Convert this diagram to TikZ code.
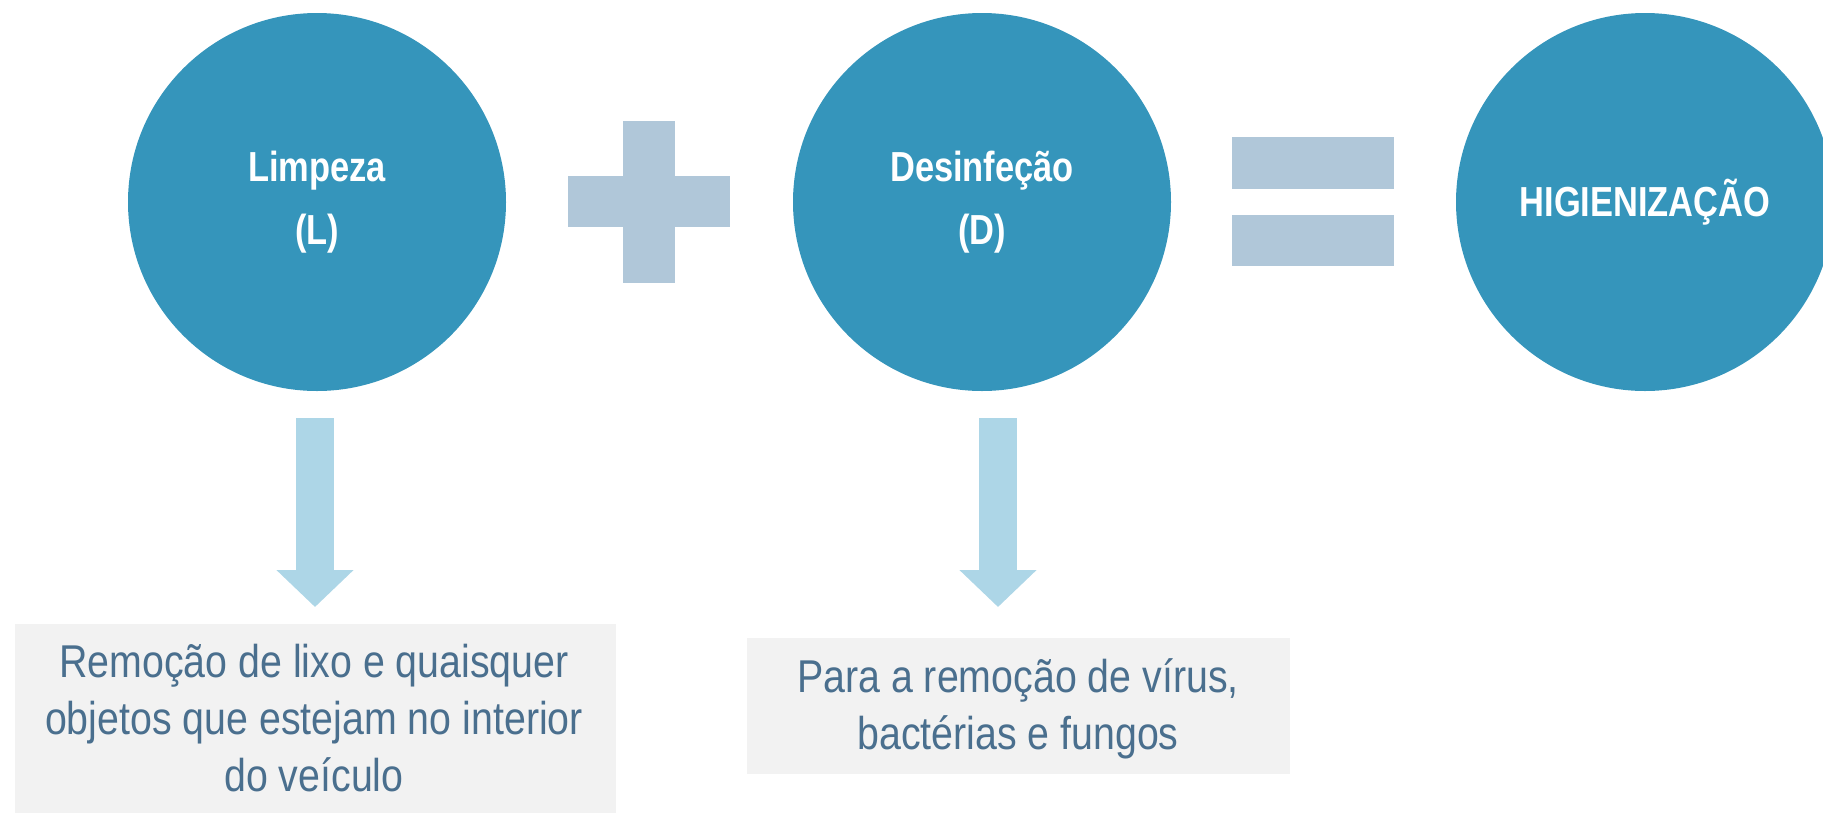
\documentclass[tikz,border=0pt]{standalone}
\usepackage{fontspec}
\setmainfont{Liberation Sans}
\newfontfamily\bodyfont{Liberation Sans}[FakeStretch=0.855]
\newfontfamily\titlefont{Liberation Sans}[FakeStretch=0.82]
\usetikzlibrary{arrows.meta}
\definecolor{circblue}{HTML}{3595BB}
\definecolor{signblue}{HTML}{B0C7D9}
\definecolor{arrowblue}{HTML}{ADD6E7}
\definecolor{notegray}{HTML}{F2F2F2}
\definecolor{notetext}{HTML}{4A6F8E}
\begin{document}
\begin{tikzpicture}[x=1pt, y=-1pt, disc/.style={circle, fill=circblue, minimum size=378pt, inner sep=0pt, text=white, align=center, font=\titlefont\bfseries\fontsize{42}{63}\selectfont}, sign/.style={fill=signblue}, downarrow/.style={draw=arrowblue, line width=38pt, -{Triangle[width=75pt, length=37pt]}}, note/.style={fill=notegray, inner sep=0pt}, notetxt/.style={text=notetext, inner sep=0pt, align=center, font=\bodyfont\fontsize{46}{57}\selectfont}]
		\useasboundingbox (0,0) rectangle (1823,812);
		\clip (0,0) rectangle (1823,812);
		\node[disc] (limpeza) at (317,202) {Limpeza\\(L)};
		\node[disc] (desinf) at (982,202) {Desinfeção\\(D)};
		\node[disc] (higien) at (1645,202) {HIGIENIZAÇÃO};
		\fill[sign] (623,121) rectangle (675,283);
		\fill[sign] (568,176) rectangle (730,227);
		\fill[sign] (1232,137) rectangle (1394,189);
		\fill[sign] (1232,215) rectangle (1394,266);
		\node[note, minimum width=601pt, minimum height=210pt, anchor=north] (lixobox) at (315.5,624) {};
		\node[note, minimum width=543pt, minimum height=136pt] (virusbox) at (1018.5,706) {};
		\node[notetxt] (lixo) at (314,718) {Remoção de lixo e quaisquer\\objetos que estejam no interior\\do veículo};
		\node[notetxt] (virus) at (1018,708.5) {Para a remoção de vírus,\\bactérias e fungos};
		\coordinate (la) at (315,418);
		\coordinate (lb) at (315,607);
		\coordinate (da) at (998,418);
		\coordinate (db) at (998,607);
		\draw[downarrow] (la) -- (lb);
		\draw[downarrow] (da) -- (db);
	\end{tikzpicture}
\end{document}
